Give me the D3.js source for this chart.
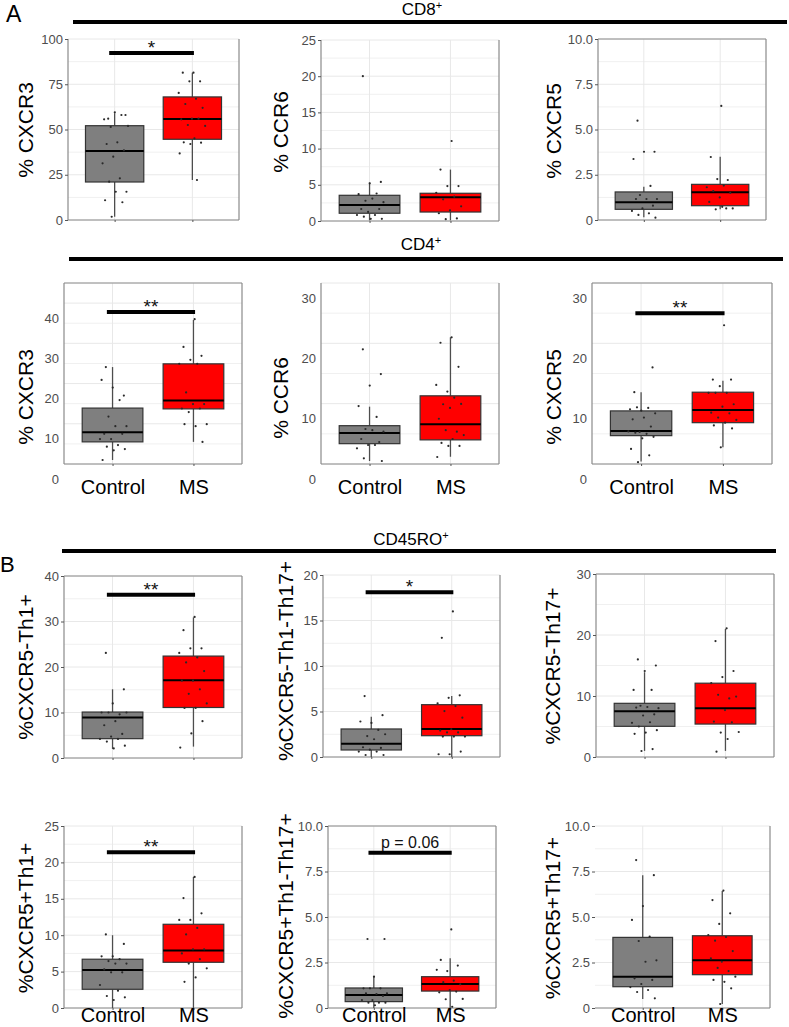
<!DOCTYPE html>
<html><head><meta charset="utf-8">
<script src="https://cdn.jsdelivr.net/npm/d3@7"></script>
<style>
body{margin:0;background:#fff}
text{font-family:"Liberation Sans",Arial,sans-serif}
</style>
</head><body>
<svg id="fig" width="789" height="1027"></svg>
<script>
const groups = ["Control", "MS"];
const groupColors = ["#7f7f7f", "#ff0000"];

// Tick values / labels
const ticks0to100 = [0, 25, 50, 75, 100];
const ticks0to25 = [0, 5, 10, 15, 20, 25];
const ticks0to10 = [0, 2.5, 5, 7.5, 10];
const ticks0to10Labels = ["0", "2.5", "5.0", "7.5", "10.0"];
const ticks0to40 = [0, 10, 20, 30, 40];
const ticks0to30 = [0, 10, 20, 30];
const ticks0to20 = [0, 5, 10, 15, 20];

// Box stats per group: [lower whisker, Q1, median, Q3, upper whisker]
// --- A: CD8+
const cd8Cxcr3Box = [[1.8, 21, 38.1, 52.1, 59], [22.1, 44.6, 55.8, 68.0, 81.4]];
const cd8Cxcr3Ctrl = [56, 58, 59.5, 55.6, 58, 51.4, 52, 42.9, 42, 38.5, 35, 31.3, 23, 21.2, 15.6, 15.6, 10.9, 9.8, 1.8];
const cd8Cxcr3MS = [81.4, 81.4, 76.6, 76.6, 70.2, 67, 64.1, 62, 56, 55.6, 56, 52.5, 52, 45.1, 42.9, 42.7, 42, 36.8, 22.1];

const cd8Ccr6Box = [[0.1, 1.07, 2.2, 3.55, 5.3], [0.1, 1.24, 3.27, 3.83, 7.1]];
const cd8Ccr6Ctrl = [20, 5.4, 5.2, 3.7, 3.8, 2.8, 2.6, 3.1, 1.66, 1.66, 1.25, 0.83, 0.83, 0.6, 0.3, 0.3];
const cd8Ccr6MS = [11.05, 7.1, 4.83, 4.83, 3.9, 3.36, 3.0, 2.03, 1.48, 1.07, 0.35, 0.25];

const cd8Cxcr5Box = [[0.15, 0.59, 0.98, 1.55, 1.84], [0.6, 0.79, 1.53, 1.97, 3.5]];
const cd8Cxcr5Ctrl = [5.49, 3.77, 3.77, 3.37, 1.88, 1.38, 1.16, 1.16, 1.16, 0.79, 0.64, 0.5, 0.37, 0.28, 0.13];
const cd8Cxcr5MS = [6.3, 3.48, 2.21, 2.26, 1.81, 1.9, 1.6, 1.5, 1.25, 1.0, 0.64, 0.59, 0.64, 0.73];

// --- A: CD4+
const cd4Cxcr3Box = [[1.0, 5.5, 7.9, 13.9, 24.1], [5.5, 13.7, 15.8, 24.9, 35.8]];
const cd4Cxcr3Ctrl = [24.1, 17.0, 19.0, 20.9, 15.9, 11.8, 9.4, 9.4, 7.5, 7.5, 6.2, 6.2, 4.7, 4.3, 3.7, 3.4, 1.0];
const cd4Cxcr3MS = [36, 29.1, 26.9, 25.9, 24.9, 24.9, 17.8, 14.9, 14.9, 13.8, 13.8, 12.9, 9.9, 9.4, 9.9, 5.5];

const cd4Ccr6Box = [[0.5, 3.37, 5.14, 6.35, 9.5], [1.2, 4.0, 6.6, 11.3, 21.0]];
const cd4Ccr6Ctrl = [19.0, 14.9, 13.0, 9.6, 7.8, 5.8, 5.35, 5.6, 4.14, 3.65, 3.15, 2.6, 3.15, 0.94, 0.5];
const cd4Ccr6MS = [21.0, 20.1, 16.1, 12.0, 13.1, 11.0, 9.9, 9.95, 9.3, 7.5, 5.35, 5.6, 4.8, 4.14, 3.5, 3.0, 3.0, 1.16];

const cd4Cxcr5Box = [[0.4, 4.7, 5.47, 8.8, 11.9], [2.77, 6.85, 8.95, 11.9, 13.8]];
const cd4Cxcr5Ctrl = [11.9, 16.0, 8.84, 9.07, 9.3, 9.4, 8.4, 7.7, 7.4, 6.2, 5.3, 5.4, 5.0, 5.2, 4.5, 4.26, 2.5, 1.44, 0.3];
const cd4Cxcr5MS = [23.0, 14.0, 14.0, 12.9, 11.8, 11.8, 11.8, 9.9, 9.5, 8.5, 8.4, 7.7, 7.3, 6.85, 6.4, 5.9, 2.77];

// --- B: CD45RO+
const negTh1Box = [[2.0, 4.25, 8.9, 10.1, 15.1], [2.5, 11.1, 17.1, 22.4, 30.9]];
const negTh1Ctrl = [23.1, 15.1, 12.0, 10.0, 9.6, 10.0, 10.0, 8.1, 7.2, 5.3, 4.7, 4.2, 4.2, 3.6, 2.7, 2.1];
const negTh1MS = [31.0, 28.1, 24.1, 24.1, 23.1, 22.1, 21.0, 19.1, 17.0, 17.0, 15.1, 14.1, 12.0, 11.0, 11.0, 8.1, 5.4, 2.3];

const negTh1Th17Box = [[0, 0.77, 1.46, 3.08, 4.43], [0, 2.34, 3.08, 5.75, 6.7]];
const negTh1Th17Ctrl = [6.7, 4.6, 3.75, 3.9, 2.97, 2.3, 2.5, 1.95, 1.07, 1.0, 0.8, 0.6, 0.6, 0.22, 0.22];
const negTh1Th17MS = [16.0, 13.1, 6.78, 6.5, 5.9, 5.6, 5.05, 4.32, 3.05, 2.9, 2.7, 2.7, 2.25, 2.25, 2.25, 0.6, 0.3, 0.3];

const negTh17Box = [[1.0, 5.03, 7.5, 8.8, 13.9], [1.0, 5.4, 8.0, 12.1, 21.0]];
const negTh17Ctrl = [16.0, 15.0, 14.1, 11.0, 11.0, 8.4, 8.0, 8.2, 8.1, 7.0, 6.8, 5.6, 5.7, 5.0, 4.4, 4.0, 3.8, 1.3, 0.98];
const negTh17MS = [21.1, 19.0, 14.1, 13.1, 12.1, 9.6, 10.2, 9.9, 7.7, 5.8, 5.7, 4.0, 4.1, 2.95, 0.87];

const posTh1Box = [[0, 2.57, 5.22, 6.7, 10.0], [0, 6.28, 7.9, 11.5, 18.0]];
const posTh1Ctrl = [10.1, 8.8, 7.1, 7.1, 6.7, 6.45, 6.1, 6.1, 5.3, 4.9, 4.9, 3.16, 2.38, 1.65, 1.47, 1.1];
const posTh1MS = [18.0, 15.1, 13.0, 12.1, 12.1, 11.0, 10.1, 8.06, 8.06, 7.5, 6.7, 6.1, 5.45, 4.2, 3.6];

const posTh1Th17Box = [[0, 0.35, 0.71, 1.1, 1.72], [0, 0.93, 1.32, 1.72, 2.73]];
const posTh1Th17Ctrl = [3.79, 3.79, 1.72, 1.08, 1.08, 1.08, 0.8, 0.77, 0.8, 0.66, 0.44, 0.44, 0.29, 0.29, 0.29, 0.15];
const posTh1Th17MS = [4.32, 2.64, 2.33, 2.03, 2.1, 1.5, 1.42, 1.3, 0.99, 0.86, 0.9, 0.48, 0.5, 0.07];

const posTh17Box = [[0.5, 1.17, 1.72, 3.88, 7.3], [0.22, 1.83, 2.62, 3.97, 6.43]];
const posTh17Ctrl = [8.13, 7.3, 5.6, 4.84, 3.92, 3.68, 2.62, 2.54, 1.63, 1.54, 1.32, 1.15, 0.99, 0.88, 0.53];
const posTh17MS = [6.45, 5.93, 5.2, 4.62, 4.01, 3.9, 3.7, 3.13, 2.54, 2.73, 2.03, 2.2, 1.72, 1.44, 1.54, 1.08, 0.22];

// Significance annotations: [y value, label]
const sigCd8Cxcr3 = [92.3, "*"];
const sigCd4Cxcr3 = [37.8, "**"];
const sigCd4Cxcr5 = [25.0, "**"];
const sigNegTh1 = [35.9, "**"];
const sigNegTh1Th17 = [18.1, "*"];
const sigPosTh1 = [21.4, "**"];
const sigPosTh1Th17 = [8.53, "p = 0.06"];

const svg = d3.select("#fig");

const panels = [
  {box: cd8Cxcr3Box, pts: [cd8Cxcr3Ctrl, cd8Cxcr3MS], x0: 68, x1: 239, y0: 39, y1: 220, domain: [0, 100], ticks: ticks0to100,
   title: "% CXCR3", tx: 25, ty: 130, border: "lrb", sig: sigCd8Cxcr3},
  {box: cd8Ccr6Box, pts: [cd8Ccr6Ctrl, cd8Ccr6MS], x0: 321, x1: 499, y0: 40, y1: 221, domain: [0, 25], ticks: ticks0to25,
   title: "% CCR6", tx: 280, ty: 132, border: "lrb"},
  {box: cd8Cxcr5Box, pts: [cd8Cxcr5Ctrl, cd8Cxcr5MS], x0: 598, x1: 766, y0: 39, y1: 220, domain: [0, 10], ticks: ticks0to10, labels: ticks0to10Labels,
   title: "% CXCR5", tx: 553, ty: 131, border: "tlrb"},
  {box: cd4Cxcr3Box, pts: [cd4Cxcr3Ctrl, cd4Cxcr3MS], x0: 64, x1: 242, y0: 283, y1: 464, domain: [0, 45], ticks: ticks0to40, shift: 15,
   title: "% CXCR3", tx: 25, ty: 397, border: "tlrb", sig: sigCd4Cxcr3, xlab: 13.5},
  {box: cd4Ccr6Box, pts: [cd4Ccr6Ctrl, cd4Ccr6MS], x0: 321, x1: 499, y0: 283, y1: 464, domain: [0, 30], ticks: ticks0to30, shift: 15,
   title: "% CCR6", tx: 280, ty: 398, border: "lrb", xlab: 13.5},
  {box: cd4Cxcr5Box, pts: [cd4Cxcr5Ctrl, cd4Cxcr5MS], x0: 592, x1: 772, y0: 283, y1: 464, domain: [0, 30], ticks: ticks0to30, shift: 15,
   title: "% CXCR5", tx: 553, ty: 397, border: "tlrb", sig: sigCd4Cxcr5, xlab: 13.5},
  {box: negTh1Box, pts: [negTh1Ctrl, negTh1MS], x0: 64, x1: 242, y0: 576, y1: 758, domain: [0, 40], ticks: ticks0to40,
   title: "%CXCR5-Th1+", tx: 25, ty: 667, border: "tlrb", sig: sigNegTh1},
  {box: negTh1Th17Box, pts: [negTh1Th17Ctrl, negTh1Th17MS], x0: 323, x1: 500, y0: 575, y1: 757, domain: [0, 20], ticks: ticks0to20,
   title: "%CXCR5-Th1-Th17+", tx: 285, ty: 661, border: "lrb", sig: sigNegTh1Th17},
  {box: negTh17Box, pts: [negTh17Ctrl, negTh17MS], x0: 596, x1: 774, y0: 574, y1: 757, domain: [0, 30], ticks: ticks0to30,
   title: "%CXCR5-Th17+", tx: 552, ty: 666, border: "tlrb"},
  {box: posTh1Box, pts: [posTh1Ctrl, posTh1MS], x0: 64, x1: 242, y0: 826, y1: 1008, domain: [0, 25], ticks: ticks0to25,
   title: "%CXCR5+Th1+", tx: 25, ty: 918, border: "lrb", sig: sigPosTh1, xlab: -2},
  {box: posTh1Th17Box, pts: [posTh1Th17Ctrl, posTh1Th17MS], x0: 328, x1: 496, y0: 826, y1: 1008, domain: [0, 10], ticks: ticks0to10, labels: ticks0to10Labels,
   title: "%CXCR5+Th1-Th17+", tx: 285, ty: 916, border: "tlrb", sig: sigPosTh1Th17, xlab: -2},
  {box: posTh17Box, pts: [posTh17Ctrl, posTh17MS], x0: 595, x1: 770, y0: 826, y1: 1008, domain: [0, 10], ticks: ticks0to10, labels: ticks0to10Labels,
   title: "%CXCR5+Th17+", tx: 552, ty: 918, border: "rb", xlab: -2}
];

function drawPanel(p) {
  const g = svg.append("g");
  const x = d3.scalePoint().domain(groups).range([p.x0, p.x1]).padding(0.6);
  const step = x.step();
  const bw = 0.75 * step;
  const y = d3.scaleLinear().domain(p.domain).range([p.y1, p.y0]);
  const inDom = v => v >= p.domain[0] && v <= p.domain[1];

  // grid
  const minor = d3.pairs(p.ticks).map(([a, b]) => (a + b) / 2).concat(
    p.domain[1] > p.ticks[p.ticks.length - 1] ? [p.ticks[p.ticks.length - 1] + (p.ticks[1] - p.ticks[0]) / 2] : []
  ).filter(inDom);
  g.append("g").selectAll("line").data(minor).join("line")
    .attr("x1", p.x0).attr("x2", p.x1).attr("y1", d => y(d)).attr("y2", d => y(d))
    .attr("stroke", "#f0f0f0").attr("stroke-width", 1);
  g.append("g").selectAll("line").data(p.ticks.filter(inDom)).join("line")
    .attr("x1", p.x0).attr("x2", p.x1).attr("y1", d => y(d)).attr("y2", d => y(d))
    .attr("stroke", "#e8e8e8").attr("stroke-width", 1);
  g.append("g").selectAll("line").data(groups).join("line")
    .attr("x1", d => x(d)).attr("x2", d => x(d)).attr("y1", p.y0).attr("y2", p.y1)
    .attr("stroke", "#e8e8e8").attr("stroke-width", 1);

  // borders
  const bc = "#8a8a8a";
  const side = (x1, y1, x2, y2) => g.append("line").attr("x1", x1).attr("y1", y1).attr("x2", x2).attr("y2", y2)
    .attr("stroke", bc).attr("stroke-width", 1.2);
  if (p.border.includes("t")) side(p.x0, p.y0, p.x1, p.y0);
  if (p.border.includes("l")) side(p.x0, p.y0, p.x0, p.y1);
  if (p.border.includes("r")) side(p.x1, p.y0, p.x1, p.y1);
  if (p.border.includes("b")) side(p.x0, p.y1, p.x1, p.y1);

  // boxes
  groups.forEach((grp, i) => {
    const [lo, q1, med, q3, hi] = p.box[i];
    const cx = x(grp);
    g.append("line").attr("x1", cx).attr("x2", cx).attr("y1", y(hi)).attr("y2", y(q3))
      .attr("stroke", "#4d4d4d").attr("stroke-width", 1.3);
    g.append("line").attr("x1", cx).attr("x2", cx).attr("y1", y(q1)).attr("y2", y(lo))
      .attr("stroke", "#4d4d4d").attr("stroke-width", 1.3);
    g.append("rect").attr("x", cx - bw / 2).attr("width", bw)
      .attr("y", y(q3)).attr("height", y(q1) - y(q3))
      .attr("fill", groupColors[i]).attr("stroke", "#333").attr("stroke-width", 1.2);
    g.append("line").attr("x1", cx - bw / 2).attr("x2", cx + bw / 2).attr("y1", y(med)).attr("y2", y(med))
      .attr("stroke", "#000").attr("stroke-width", 2);
    // jittered points (deterministic golden-ratio jitter)
    g.append("g").selectAll("circle").data(p.pts[i]).join("circle")
      .attr("cx", (d, j) => cx + (((j * 0.618034 + 0.27 * (i + 1)) % 1) - 0.5) * 0.36 * step)
      .attr("cy", d => y(d)).attr("r", 1.1).attr("fill", "#2a2a2a");
  });

  // significance bar
  if (p.sig) {
    const [sv, lab] = p.sig;
    const xa = x("Control") - 0.07 * step, xb = x("MS") + 0.02 * step;
    g.append("line").attr("x1", xa).attr("x2", xb).attr("y1", y(sv)).attr("y2", y(sv))
      .attr("stroke", "#000").attr("stroke-width", 4);
    const star = lab.startsWith("*");
    g.append("text").attr("x", (xa + xb) / 2).attr("y", y(sv) + (star ? 1 : -5))
      .attr("text-anchor", "middle").attr("font-size", star ? 19 : 16).attr("fill", "#111").text(lab);
  }

  // y axis
  const ax = d3.axisLeft(y).tickValues(p.ticks).tickSize(3).tickPadding(2)
    .tickFormat((d, i) => p.labels ? p.labels[i] : d3.format("d")(d));
  const ga = g.append("g").attr("transform", `translate(${p.x0},0)`).call(ax);
  ga.select(".domain").remove();
  ga.selectAll(".tick line").attr("stroke", "#555");
  ga.selectAll(".tick text").attr("font-size", 13).attr("fill", "#4d4d4d")
    .attr("font-family", "Liberation Sans, Arial, sans-serif")
    .attr("transform", `translate(0,${p.shift || 0})`);
  if (p.shift) ga.selectAll(".tick line").remove();

  // x axis
  const bx = d3.axisBottom(x).tickSize(2).tickPadding(p.xlab != null ? p.xlab : 0)
    .tickFormat(d => p.xlab != null ? d : "");
  const gb = g.append("g").attr("transform", `translate(0,${p.y1})`).call(bx);
  gb.select(".domain").remove();
  gb.selectAll(".tick line").attr("stroke", "#555");
  gb.selectAll(".tick text").attr("font-size", 20).attr("fill", "#000")
    .attr("font-family", "Liberation Sans, Arial, sans-serif");

  // y title
  g.append("text").attr("transform", `translate(${p.tx},${p.ty}) rotate(-90)`)
    .attr("text-anchor", "middle").attr("dominant-baseline", "central")
    .attr("font-size", 21).attr("fill", "#000").text(p.title);
}

panels.forEach(drawPanel);

// Headers
function header(label, cx, cy, x1, x2, ly) {
  svg.append("line").attr("x1", x1).attr("x2", x2).attr("y1", ly).attr("y2", ly)
    .attr("stroke", "#000").attr("stroke-width", 4);
  const t = svg.append("text").attr("x", cx).attr("y", cy).attr("text-anchor", "middle")
    .attr("font-size", 17).attr("fill", "#000").text(label);
  t.append("tspan").attr("font-size", 11).attr("dy", -6).text("+");
}
header("CD8", 422, 15, 73, 787, 22);
header("CD4", 421, 250, 69, 783, 259);
header("CD45RO", 411, 545, 62, 776, 551);

svg.append("text").attr("x", 6).attr("y", 22).attr("font-size", 23).attr("fill", "#000").text("A");
svg.append("text").attr("x", 0).attr("y", 572).attr("font-size", 22).attr("fill", "#000").text("B");
</script>
</body></html>
